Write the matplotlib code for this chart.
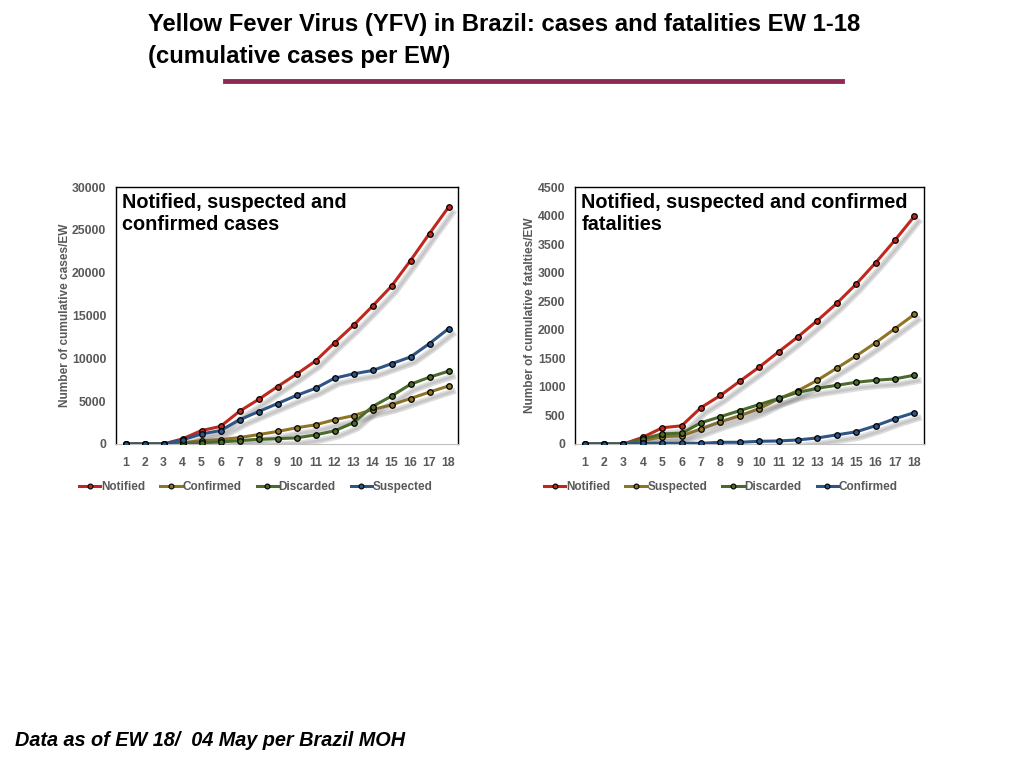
import matplotlib
matplotlib.use("Agg")
import matplotlib.pyplot as plt
import matplotlib.patheffects as pe
from matplotlib.lines import Line2D

plt.rcParams['font.family'] = ['Liberation Sans', 'DejaVu Sans']

weeks = list(range(1, 19))

# cumulative cases per EW
cases_notified = [0, 0, 0, 600, 1570, 2050, 3820, 5200, 6700, 8150, 9690,
                  11810, 13860, 16100, 18430, 21420, 24570, 27640]
cases_confirmed = [0, 0, 0, 150, 390, 510, 750, 1100, 1460, 1890, 2240,
                   2830, 3310, 4020, 4570, 5310, 6060, 6770]
cases_discarded = [0, 0, 0, 80, 150, 240, 390, 550, 630, 710, 1060,
                   1540, 2480, 4370, 5590, 6970, 7800, 8500]
cases_suspected = [0, 0, 0, 470, 1180, 1570, 2830, 3780, 4720, 5670, 6500,
                   7680, 8190, 8580, 9370, 10160, 11730, 13460]

# cumulative fatalities per EW
fat_notified = [0, 0, 0, 118, 284, 319, 638, 850, 1099, 1347, 1613,
                1878, 2162, 2463, 2800, 3172, 3568, 3987]
fat_suspected = [0, 0, 0, 59, 130, 142, 266, 390, 496, 620, 791,
                 933, 1116, 1329, 1542, 1772, 2020, 2268]
fat_discarded = [0, 0, 0, 89, 177, 189, 372, 478, 585, 691, 797,
                 904, 975, 1028, 1081, 1116, 1140, 1205]
fat_confirmed = [0, 0, 0, 12, 12, 12, 12, 30, 30, 47, 53,
                 71, 106, 160, 213, 319, 443, 549]

RED = '#C0281E'
OLIVE = '#8E7424'
GREEN = '#4B6B2D'
BLUE = '#2E5585'
GRAY = '#595959'

# soft drop shadow under each line (line only, markers drawn on top)
shadow = [pe.SimpleLineShadow(offset=(3, -4), shadow_color='#666666',
                              alpha=0.22, linewidth=4.5),
          pe.SimpleLineShadow(offset=(3, -4), shadow_color='#666666',
                              alpha=0.18, linewidth=2.0),
          pe.Normal()]

fig = plt.figure(figsize=(10.24, 7.68), dpi=100)


def draw_panel(ax, series, ymax, ystep, ylabel, inner_title, leg_x):
    for vals, col, name in series:
        ax.plot(weeks, vals, color=col, lw=2.2, path_effects=shadow, zorder=3)
        ax.plot(weeks, vals, ls='none', marker='o', ms=4, mfc=col,
                mec='black', mew=0.9, zorder=4)
    ax.set_xlim(0.5, 18.5)
    ax.set_ylim(0, ymax)
    ax.set_xticks(weeks)
    ax.set_yticks(range(0, ymax + 1, ystep))
    ax.tick_params(length=0, labelsize=8.8, labelcolor=GRAY)
    ax.tick_params(axis='x', pad=9)
    ax.tick_params(axis='y', pad=7)
    for lab in ax.get_xticklabels() + ax.get_yticklabels():
        lab.set_fontweight('bold')
    for s in ['left', 'top', 'right']:
        ax.spines[s].set_color('black')
        ax.spines[s].set_linewidth(1.0)
    ax.spines['bottom'].set_color('#BFBFBF')
    ax.set_ylabel(ylabel, fontsize=8.6, color=GRAY, fontweight='bold',
                  labelpad=1)
    ax.text(0.018, 0.975, inner_title, transform=ax.transAxes, ha='left',
            va='top', fontsize=14.3, fontweight='bold', color='black',
            linespacing=1.15)
    handles = [Line2D([0], [0], color=c, lw=2.2, marker='o', ms=3.5, mfc=c,
                      mec='black', mew=0.8) for _, c, _ in series]
    ax.legend(handles, [n for _, _, n in series], loc='upper left',
              bbox_to_anchor=(leg_x, 1 - 481 / 768),
              bbox_transform=fig.transFigure, ncol=4, frameon=False,
              handlelength=1.8, handletextpad=0.05, columnspacing=1.3,
              borderaxespad=0, borderpad=0,
              prop={'size': 8.5, 'weight': 'bold'}, labelcolor=GRAY)


ax1 = fig.add_axes([116 / 1024, 1 - 444 / 768, 342 / 1024, 257 / 768])
draw_panel(ax1,
           [(cases_notified, RED, 'Notified'),
            (cases_confirmed, OLIVE, 'Confirmed'),
            (cases_discarded, GREEN, 'Discarded'),
            (cases_suspected, BLUE, 'Suspected')],
           30000, 5000, 'Number of cumulative cases/EW',
           'Notified, suspected and\nconfirmed cases', 79 / 1024)

ax2 = fig.add_axes([575 / 1024, 1 - 444 / 768, 349 / 1024, 257 / 768])
draw_panel(ax2,
           [(fat_notified, RED, 'Notified'),
            (fat_suspected, OLIVE, 'Suspected'),
            (fat_discarded, GREEN, 'Discarded'),
            (fat_confirmed, BLUE, 'Confirmed')],
           4500, 500, 'Number of cumulative fatalties/EW',
           'Notified, suspected and confirmed\nfatalities', 544 / 1024)

fig.text(148 / 1024, 1 - 13 / 768,
         'Yellow Fever Virus (YFV) in Brazil: cases and fatalities EW 1-18\n(cumulative cases per EW)',
         ha='left', va='top', fontsize=17.2, fontweight='bold', color='black',
         linespacing=1.5)
fig.add_artist(Line2D([225 / 1024, 842 / 1024], [1 - 81 / 768, 1 - 81 / 768],
                      color='#8B2A52', lw=3.5, transform=fig.transFigure))

fig.text(15 / 1024, 1 - 741 / 768, 'Data as of EW 18/  04 May per Brazil MOH',
         ha='left', va='center', fontsize=14.3, fontweight='bold',
         fontstyle='italic', color='black')

fig.savefig('out.png', dpi=100)
